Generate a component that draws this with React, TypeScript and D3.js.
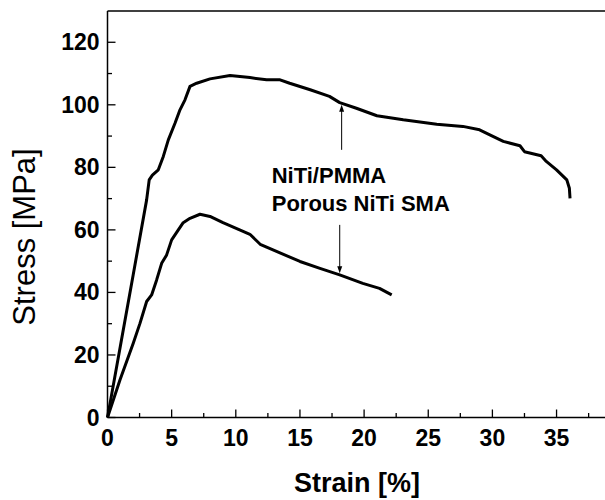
import * as d3 from "d3";

// NiTi/PMMA curve (strain %, stress MPa)
const pmmaStrain = [0, 1.0, 2.0, 3.05, 3.25, 3.5, 3.96, 4.35, 4.74, 5.26, 5.65, 6.04, 6.43, 6.95, 7.99, 9.55, 11.1, 12.4, 13.45, 14.2, 15.8, 17.3, 18.1, 19.4, 21.0, 23.05, 25.66, 27.7, 29.0, 29.8, 30.85, 32.15, 32.5, 33.8, 34.2, 35.0, 35.8, 36.0, 36.05];
const pmmaStress = [0, 22.8, 45.6, 69.6, 76, 77.5, 79.2, 83.5, 88.8, 94.1, 98.4, 101.6, 105.9, 106.9, 108.3, 109.4, 108.7, 108, 108, 106.9, 104.8, 102.7, 100.7, 98.9, 96.5, 95.2, 93.8, 93.1, 92.0, 90.4, 88.3, 86.9, 85, 83.7, 81.9, 79.2, 76, 73.3, 70.1];

// Porous NiTi SMA curve
const porousStrain = [0, 0.97, 2.0, 2.53, 3.05, 3.44, 3.83, 4.22, 4.61, 5.0, 5.52, 5.9, 6.43, 7.21, 7.99, 9.0, 10.3, 11.1, 11.9, 12.9, 15.0, 16.56, 18.1, 19.9, 21.2, 22.15];
const porousStress = [0, 12, 23.7, 30.1, 37.1, 39.2, 44, 49.3, 52, 56.8, 60, 62.3, 63.7, 65.0, 64.3, 62.3, 60, 58.6, 55.4, 53.6, 49.9, 47.7, 45.6, 42.9, 41.3, 39.2];

const xTicks = [0, 5, 10, 15, 20, 25, 30, 35];
const yTicks = [0, 20, 40, 60, 80, 100, 120];
const labels = ["NiTi/PMMA", "Porous NiTi SMA"];

const font = "'Liberation Sans', Arial, sans-serif";

export default function App() {
  const width = 605, height = 500;
  const x = d3.scaleLinear().domain([0, 40]).range([107.5, 620.7]);
  const y = d3.scaleLinear().domain([0, 130]).range([417.5, 11]);

  const line = d3.line<[number, number]>()
    .x((d) => x(d[0]))
    .y((d) => y(d[1]));

  const pmma = pmmaStrain.map((s, i) => [s, pmmaStress[i]] as [number, number]);
  const porous = porousStrain.map((s, i) => [s, porousStress[i]] as [number, number]);

  // minor ticks halfway between majors
  const xMinor = d3.range(2.5, 40, 5);
  const yMinor = d3.range(10, 130, 20);

  const x0 = x(0), y0 = y(0);

  // annotation arrows
  const up = { s: 18.25, from: 85.6, to: 100 };
  const down = { s: 18.1, from: 61.6, to: 46.1 };

  return (
    <svg width={width} height={height} style={{ position: "absolute", left: 0, top: 0, background: "#fff" }} fontFamily={font}>
      {/* frame */}
      <line x1={x0} x2={width} y1={y(130)} y2={y(130)} stroke="#000" strokeWidth={1.5} />
      <line x1={x0} x2={x0} y1={y(130)} y2={y0} stroke="#000" strokeWidth={1.5} />
      <line x1={x0} x2={width} y1={y0} y2={y0} stroke="#000" strokeWidth={1.5} />

      {/* x ticks */}
      {xTicks.map((t) => (
        <g key={"xt" + t}>
          <line x1={x(t)} x2={x(t)} y1={y0} y2={y0 - 8} stroke="#000" strokeWidth={1.3} />
          <text x={x(t)} y={y0 + 28} textAnchor="middle" fontSize={23} fontWeight="bold">{t}</text>
        </g>
      ))}
      {xMinor.map((t) => (
        <line key={"xm" + t} x1={x(t)} x2={x(t)} y1={y0} y2={y0 - 4.5} stroke="#000" strokeWidth={1.3} />
      ))}

      {/* y ticks */}
      {yTicks.map((t) => (
        <g key={"yt" + t}>
          <line x1={x0} x2={x0 + 8} y1={y(t)} y2={y(t)} stroke="#000" strokeWidth={1.3} />
          <text x={x0 - 8} y={y(t) + 8} textAnchor="end" fontSize={23} fontWeight="bold">{t}</text>
        </g>
      ))}
      {yMinor.map((t) => (
        <line key={"ym" + t} x1={x0} x2={x0 + 4.5} y1={y(t)} y2={y(t)} stroke="#000" strokeWidth={1.3} />
      ))}

      {/* axis titles */}
      <text x={357} y={492} textAnchor="middle" fontSize={27} fontWeight="bold">Strain [%]</text>
      <text transform="translate(35,237) rotate(-90)" textAnchor="middle" fontSize={31}>Stress [MPa]</text>

      {/* curves */}
      <path d={line(pmma) ?? ""} fill="none" stroke="#000" strokeWidth={3} strokeLinejoin="round" />
      <path d={line(porous) ?? ""} fill="none" stroke="#000" strokeWidth={3} strokeLinejoin="round" />

      {/* annotations */}
      <line x1={x(up.s)} x2={x(up.s)} y1={y(up.from)} y2={y(up.to) + 5} stroke="#000" strokeWidth={1} />
      <path d={`M${x(up.s)},${y(up.to)} l-2.5,7 l5,0 z`} fill="#000" />
      <line x1={x(down.s)} x2={x(down.s)} y1={y(down.from)} y2={y(down.to) - 5} stroke="#000" strokeWidth={1} />
      <path d={`M${x(down.s)},${y(down.to)} l-2.5,-7 l5,0 z`} fill="#000" />

      <text x={x(12.8)} y={y(75.1)} fontSize={22} fontWeight="bold">{labels[0]}</text>
      <text x={x(12.8)} y={y(65.9)} fontSize={22} fontWeight="bold">{labels[1]}</text>
    </svg>
  );
}
